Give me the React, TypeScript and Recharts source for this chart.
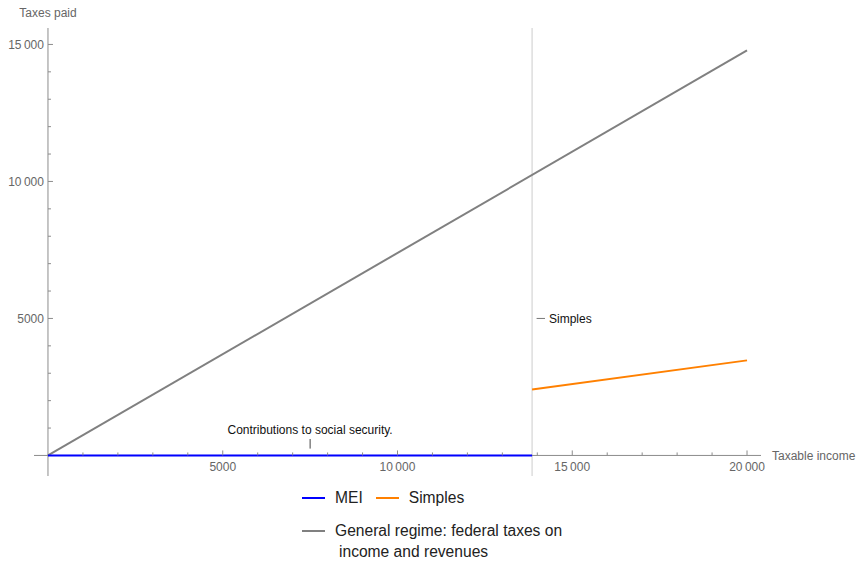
import React from 'react';
import {
  Legend,
  Line,
  LineChart,
  ReferenceLine,
  XAxis,
  YAxis
} from 'recharts';

// values
const meiIncome = [0, 13850];
const meiTax = [0, 0];
const simplesIncome = [13850, 20000];
const simplesTax = [2410, 3470];
const generalIncome = [0, 20000];
const generalTax = [0, 14780];

const xTicks = [
  1000, 2000, 3000, 4000, 5000, 6000, 7000, 8000, 9000, 10000,
  11000, 12000, 13000, 14000, 15000, 16000, 17000, 18000, 19000, 20000
];
const yTicks = [
  1000, 2000, 3000, 4000, 5000, 6000, 7000, 8000, 9000, 10000,
  11000, 12000, 13000, 14000, 15000
];

const simplesThreshold = 13850;
const calloutMei = { x: 7500, yLow: 250, yHigh: 600 };
const calloutSimples = { xStart: 13980, xEnd: 14220, y: 5000 };

const MEI = 'MEI';
const SIMPLES = 'Simples';
const GENERAL = 'General regime: federal taxes on income and revenues';

const toRows = (xs: number[], ys: number[]) =>
  xs.map((x, i) => ({ income: x, tax: ys[i] }));

const meiData = toRows(meiIncome, meiTax);
const simplesData = toRows(simplesIncome, simplesTax);
const generalData = toRows(generalIncome, generalTax);

const W = 857;
const H = 563;
const AX = 1; // axis band size (must be > 0 for ticks to render)
const MARGIN = { top: 28, right: 96, bottom: 87 - AX, left: 34 - AX };
const X_MIN = -400;
const X_MAX = 20400;
const Y_MIN = -750;
const Y_MAX = 15600;

const plotLeft = 34;
const plotTop = 28;
const plotW = W - 34 - 96;
const plotH = H - 28 - 87;
// pixel of the axes origin
const X0 = plotLeft + ((0 - X_MIN) / (X_MAX - X_MIN)) * plotW;
const Y0 = plotTop + ((Y_MAX - 0) / (Y_MAX - Y_MIN)) * plotH;

const FONT = '"Liberation Sans", Arial, sans-serif';
const AXIS = '#8c8c8c';
const LABEL = '#666666';

const fmt = (v: number) =>
  String(v).replace(/(\d{2})(\d{3})$/, '$1\u2009$2');

const XTick = (props: any) => {
  const { x, payload } = props;
  const major = payload.value % 5000 === 0;
  return (
    <g>
      <line x1={x} x2={x} y1={Y0} y2={Y0 - (major ? 5 : 3)} stroke={AXIS} />
      {major && (
        <text
          x={x}
          y={Y0 + 11}
          dy="0.35em"
          textAnchor="middle"
          fill={LABEL}
          fontSize={12}
          fontFamily={FONT}
        >
          {fmt(payload.value)}
        </text>
      )}
    </g>
  );
};

const YTick = (props: any) => {
  const { y, payload } = props;
  const major = payload.value % 5000 === 0;
  return (
    <g>
      <line x1={X0} x2={X0 + (major ? 5 : 3)} y1={y} y2={y} stroke={AXIS} />
      {major && (
        <text
          x={X0 - 4}
          y={y}
          dy="0.35em"
          textAnchor="end"
          fill={LABEL}
          fontSize={12}
          fontFamily={FONT}
        >
          {fmt(payload.value)}
        </text>
      )}
    </g>
  );
};

const LegendItem = ({ color, text }: { color: string; text: React.ReactNode }) => (
  <div style={{ display: 'flex', alignItems: 'flex-start', marginRight: 13 }}>
    <div
      style={{
        width: 23,
        height: 2,
        background: color,
        marginTop: 9.5,
        marginRight: 10,
        flex: 'none'
      }}
    />
    <div style={{ whiteSpace: 'nowrap' }}>{text}</div>
  </div>
);

const renderLegend = (props: any) => {
  const payload: any[] = props.payload || [];
  const find = (name: string) => payload.find((p) => p.value === name);
  const mei = find(MEI);
  const simples = find(SIMPLES);
  const general = find(GENERAL);
  return (
    <div style={{ fontFamily: FONT, fontSize: 15.6, color: '#222', lineHeight: '21px' }}>
      <div style={{ display: 'flex' }}>
        {mei && <LegendItem color={mei.color} text={mei.value} />}
        {simples && <LegendItem color={simples.color} text={simples.value} />}
      </div>
      {general && (
        <div style={{ marginTop: 12 }}>
          <LegendItem
            color={general.color}
            text={
              <>
                <div>General regime: federal taxes on</div>
                <div style={{ paddingLeft: 4 }}>income and revenues</div>
              </>
            }
          />
        </div>
      )}
    </div>
  );
};

const App: React.FC = () => {
  return (
    <div style={{ position: 'absolute', left: 0, top: 0 }}>
      <LineChart width={W} height={H} margin={MARGIN}>
        <XAxis
          type="number"
          dataKey="income"
          domain={[X_MIN, X_MAX]}
          ticks={xTicks}
          interval={0}
          height={AX}
          axisLine={false}
          tickLine={false}
          tick={<XTick />}
          allowDataOverflow
        />
        <YAxis
          type="number"
          dataKey="tax"
          domain={[Y_MIN, Y_MAX]}
          ticks={yTicks}
          interval={0}
          width={AX}
          axisLine={false}
          tickLine={false}
          tick={<YTick />}
          allowDataOverflow
        />
        <ReferenceLine x={simplesThreshold} stroke="#cccccc" strokeWidth={1} />
        <ReferenceLine
          x={0}
          stroke={AXIS}
          label={{
            value: 'Taxes paid',
            position: 'top',
            offset: 11,
            fill: LABEL,
            fontSize: 12,
            fontFamily: FONT
          }}
        />
        <ReferenceLine
          y={0}
          stroke={AXIS}
          label={{
            value: 'Taxable income',
            position: 'right',
            offset: 11,
            fill: LABEL,
            fontSize: 12,
            fontFamily: FONT
          }}
        />
        <ReferenceLine
          segment={[
            { x: calloutMei.x, y: calloutMei.yLow },
            { x: calloutMei.x, y: calloutMei.yHigh }
          ]}
          stroke="#444444"
          label={{
            value: 'Contributions to social security.',
            position: 'top',
            offset: 5,
            fill: '#111',
            fontSize: 12,
            fontFamily: FONT
          }}
        />
        <ReferenceLine
          segment={[
            { x: calloutSimples.xStart, y: calloutSimples.y },
            { x: calloutSimples.xEnd, y: calloutSimples.y }
          ]}
          stroke="#777777"
          label={{
            value: 'Simples',
            position: 'right',
            offset: 4,
            fill: '#111',
            fontSize: 12,
            fontFamily: FONT
          }}
        />
        <Line
          data={generalData}
          dataKey="tax"
          name={GENERAL}
          type="linear"
          stroke="#808080"
          strokeWidth={2}
          dot={false}
          isAnimationActive={false}
        />
        <Line
          data={simplesData}
          dataKey="tax"
          name={SIMPLES}
          type="linear"
          stroke="#ff8000"
          strokeWidth={2}
          dot={false}
          isAnimationActive={false}
        />
        <Line
          data={meiData}
          dataKey="tax"
          name={MEI}
          type="linear"
          stroke="#0000ff"
          strokeWidth={2}
          dot={false}
          isAnimationActive={false}
        />
        <Legend
          layout="horizontal"
          verticalAlign="middle"
          align="center"
          content={renderLegend}
          wrapperStyle={{ top: 487, left: 302, width: 400, height: 70 }}
        />
      </LineChart>
    </div>
  );
};

export default App;
